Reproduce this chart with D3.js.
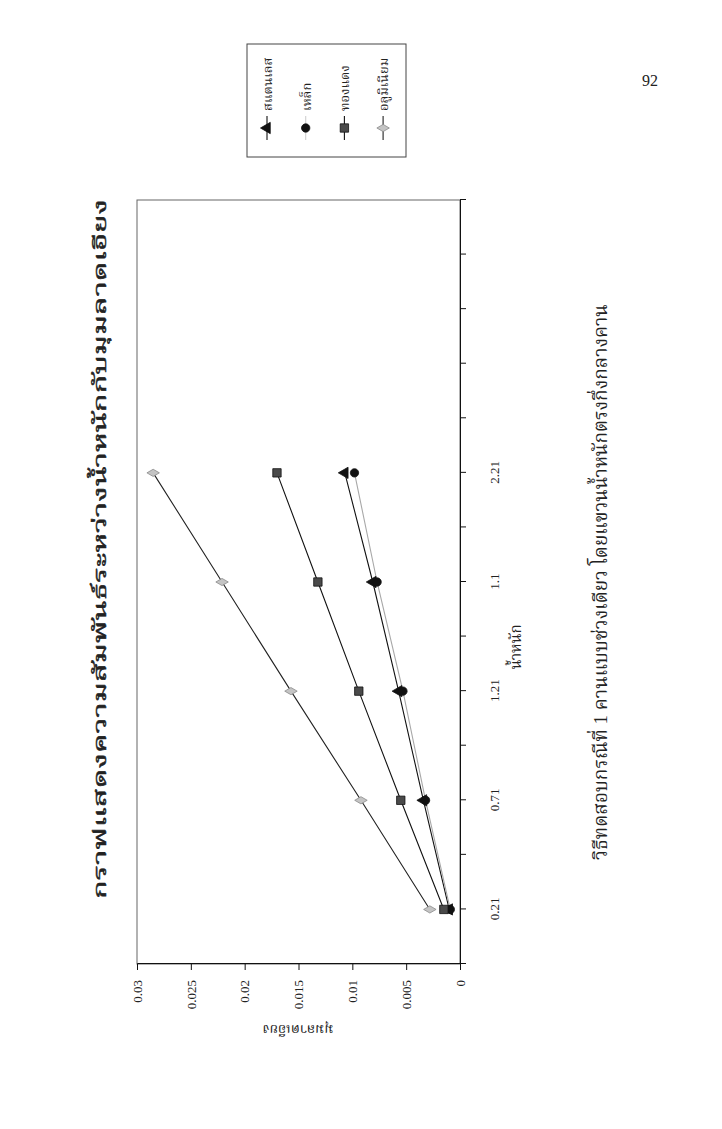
<!DOCTYPE html>
<html>
<head>
<meta charset="utf-8">
<script src="https://cdn.jsdelivr.net/npm/d3@7"></script>
<style>
  html, body { margin: 0; padding: 0; background: #fff; }
  svg { display: block; }
  text { font-family: "Liberation Serif", "Noto Serif Thai", "Noto Sans Thai", "Norasi", "Loma", serif; fill: #222; }
</style>
</head>
<body>
<svg id="page" width="722" height="1129"></svg>
<script>
// ---- data ----
const categories = ["0.21", "0.71", "1.21", "1.1", "2.21"];
const seriesNames = ["สแตนเลส", "เหล็ก", "ทองแดง", "อลูมิเนียม"];
const stainless = [0.0010, 0.0034, 0.0057, 0.0081, 0.0107];
const iron      = [0.0009, 0.0032, 0.0053, 0.0077, 0.0098];
const copper    = [0.0015, 0.0055, 0.0094, 0.0132, 0.0170];
const aluminium = [0.0028, 0.0092, 0.0157, 0.0221, 0.0285];
const valueTicks = [0, 0.005, 0.01, 0.015, 0.02, 0.025, 0.03];
const titleText = "กราฟแสดงความสัมพันธ์ระหว่างน้ำหนักกับมุมลาดเอียง";
const xTitle = "น้ำหนัก";
const yTitle = "มุมลาดเอียง";
const captionText = "วิธีทดสอบกรณีที่ 1 คานแบบช่วงเดียว  โดยแขวนน้ำหนักตรงกึ่งกลางคาน";
const pageNumber = "92";

// ---- layout (chart drawn in its own orientation, then the page is turned) ----
const PW = 722, PH = 1129;
const slotCount = 14;               // tick slots on the category axis
const slotOf = i => 2 * i + 1;      // category i sits on every other slot
const plot = { x0: 165, x1: 929, y0: 137, y1: 460 };

const svg = d3.select("#page");
svg.append("rect").attr("width", PW).attr("height", PH).attr("fill", "#fff");

// page number (upright)
svg.append("text").attr("x", 650).attr("y", 86).attr("text-anchor", "middle")
  .attr("font-size", 16).text(pageNumber);

const g = svg.append("g").attr("transform", `translate(0,${PH}) rotate(-90)`);

const x = d3.scaleLinear().domain([0, slotCount]).range([plot.x0, plot.x1]);
const y = d3.scaleLinear().domain([0, 0.03]).range([plot.y1, plot.y0]);

// plot frame
g.append("rect").attr("x", plot.x0).attr("y", plot.y0)
  .attr("width", plot.x1 - plot.x0).attr("height", plot.y1 - plot.y0)
  .attr("fill", "none").attr("stroke", "#666").attr("stroke-width", 1);

// category axis
const xAxis = d3.axisBottom(x)
  .tickValues(d3.range(0, slotCount + 1))
  .tickSize(6).tickPadding(24)
  .tickFormat(d => {
    const i = categories.findIndex((c, k) => slotOf(k) === d);
    return i >= 0 ? categories[i] : "";
  });
const gx = g.append("g").attr("transform", `translate(0,${plot.y1})`).call(xAxis);
gx.select(".domain").attr("stroke", "#111");
gx.selectAll(".tick line").attr("stroke", "#111");
gx.selectAll(".tick text").attr("font-size", 13).attr("fill", "#222")
  .attr("font-family", "Liberation Serif, serif");

// value axis
const yAxis = d3.axisLeft(y).tickValues(valueTicks).tickSize(6).tickPadding(10)
  .tickFormat(d => d3.format("")(+d.toFixed(3)));
const gy = g.append("g").attr("transform", `translate(${plot.x0},0)`).call(yAxis);
gy.select(".domain").attr("stroke", "#111");
gy.selectAll(".tick line").attr("stroke", "#111");
gy.selectAll(".tick text").attr("font-size", 13).attr("fill", "#222")
  .attr("font-family", "Liberation Serif, serif");

// series
const series = [
  { name: seriesNames[0], values: stainless, line: "#111", marker: "triangle", fill: "#111", stroke: "#111" },
  { name: seriesNames[1], values: iron,      line: "#a8a8a8", marker: "circle",   fill: "#111", stroke: "#111", legendText: "#dcdcdc" },
  { name: seriesNames[2], values: copper,    line: "#111", marker: "square",   fill: "#4a4a4a", stroke: "#111" },
  { name: seriesNames[3], values: aluminium, line: "#222", marker: "diamond",  fill: "#c4c4c4", stroke: "#8a8a8a" }
];
const symType = { triangle: d3.symbolTriangle, circle: d3.symbolCircle, square: d3.symbolSquare, diamond: d3.symbolDiamond };
const symSize = { triangle: 55, circle: 55, square: 70, diamond: 45 };

const line = d3.line().x((d, i) => x(slotOf(i))).y(d => y(d));
series.forEach(s => {
  g.append("path").datum(s.values).attr("d", line)
    .attr("fill", "none").attr("stroke", s.line).attr("stroke-width", 1.1);
});
series.forEach(s => {
  g.append("g").selectAll("path").data(s.values).join("path")
    .attr("transform", (d, i) => `translate(${x(slotOf(i))},${y(d)})`)
    .attr("d", d3.symbol().type(symType[s.marker]).size(symSize[s.marker]))
    .attr("fill", s.fill).attr("stroke", s.stroke).attr("stroke-width", 0.8);
});

// legend
const lg = g.append("g");
lg.append("rect").attr("x", 972).attr("y", 247).attr("width", 113).attr("height", 159)
  .attr("fill", "#fff").attr("stroke", "#444").attr("stroke-width", 1);
series.forEach((s, k) => {
  const cy = 267 + k * 38.7;
  lg.append("line").attr("x1", 989).attr("x2", 1013).attr("y1", cy).attr("y2", cy)
    .attr("stroke", s.legendText ? "#cfcfcf" : s.line).attr("stroke-width", 1.1);
  lg.append("path").attr("transform", `translate(1001,${cy})`)
    .attr("d", d3.symbol().type(symType[s.marker]).size(symSize[s.marker]))
    .attr("fill", s.fill).attr("stroke", s.stroke).attr("stroke-width", 0.8);
  lg.append("text").attr("x", 1018).attr("y", cy + 5).attr("font-size", 13)
    .attr("fill", s.legendText || "#333").text(s.name);
});

// titles
g.append("text").attr("x", 580).attr("y", 106).attr("text-anchor", "middle")
  .attr("font-size", 18).attr("stroke", "#222").attr("stroke-width", 0.45)
  .attr("textLength", 700).attr("lengthAdjust", "spacingAndGlyphs").text(titleText);
g.append("text").attr("x", 482).attr("y", 521).attr("text-anchor", "middle")
  .attr("font-size", 15).text(xTitle);
g.append("text").attr("transform", `translate(104,298) rotate(-90)`).attr("text-anchor", "middle")
  .attr("font-size", 14).text(yTitle);
g.append("text").attr("x", 547).attr("y", 607).attr("text-anchor", "middle")
  .attr("font-size", 19).text(captionText);
</script>
</body>
</html>
